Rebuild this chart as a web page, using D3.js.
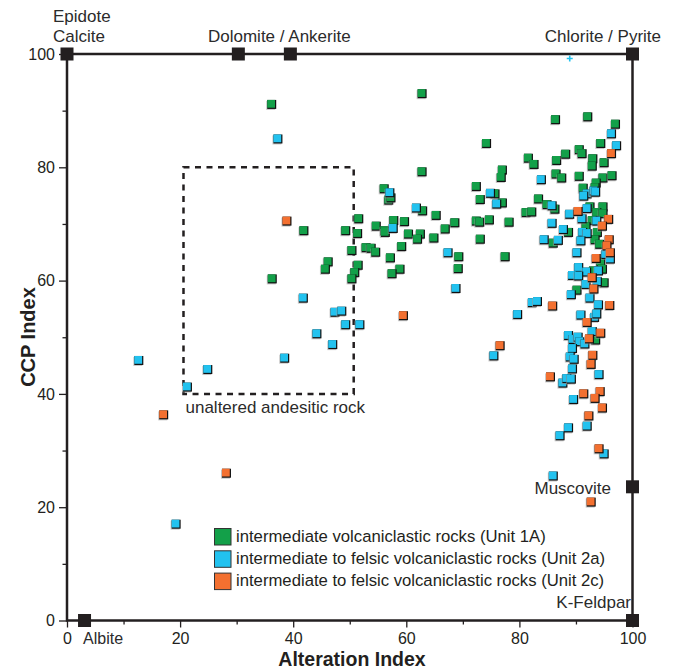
<!DOCTYPE html>
<html>
<head>
<meta charset="utf-8">
<script src="https://cdn.jsdelivr.net/npm/d3@7"></script>
<style>
  body { margin: 0; background: #fff; }
  svg { display: block; font-family: "Liberation Sans", Arial, sans-serif; }
</style>
</head>
<body>
<svg width="674" height="671"></svg>
<script>
// [Alteration Index, CCP Index]
var unit1A = [[36.2,91.1],[41.9,68.8],[49.3,68.8],[51.6,70.9],[51.4,68.3],[50.4,65.3],[46.2,63.3],[45.7,62.0],[51.5,62.7],[50.9,61.4],[50.4,60.3],[36.3,60.3],
  [62.8,93.0],[86.4,88.4],[92.1,88.9],[97.0,87.6],[94.4,84.2],[74.2,84.2],[81.6,81.6],[82.6,80.5],[86.6,81.2],[88.2,82.3],[90.6,83.1],[91.1,82.4],[93.0,81.5],
  [92.9,80.2],[95.0,80.8],[62.8,79.2],[77.0,79.5],[76.8,78.2],[86.5,78.8],[87.5,78.1],[90.6,78.4],[94.8,78.1],[96.4,78.5],[72.4,76.6],[56.1,76.2],[56.9,74.2],
  [57.3,74.6],[75.7,75.3],[73.1,74.3],[77.0,73.7],[91.3,76.3],[93.6,77.2],[93.4,76.4],[83.4,74.4],[84.9,73.4],[86.3,72.6],[62.9,72.3],[65.3,71.5],[57.8,70.6],
  [59.7,70.4],[68.6,70.2],[72.4,70.5],[73.0,70.3],[74.7,70.7],[78.2,70.3],[81.2,72.0],[82.2,72.1],[92.5,73.0],[94.8,73.0],[93.7,72.0],[94.8,71.8],[92.9,70.6],
  [91.8,69.5],[54.7,69.6],[56.2,68.8],[56.3,68.5],[60.4,68.2],[62.5,68.2],[62.0,67.3],[64.9,67.5],[66.9,69.1],[73.1,67.3],[88.7,68.5],[93.8,68.5],[86.0,66.6],
  [93.4,67.2],[94.2,66.4],[52.9,65.8],[53.8,65.7],[54.6,65.0],[59.2,66.0],[69.3,64.2],[57.2,64.0],[77.5,64.2],[94.4,63.3],[58.9,62.0],[57.5,61.2],[69.2,62.1],
  [94.7,62.0],[93.1,61.7],[95.0,59.6],[90.2,58.3],[93.5,49.5]];

var unit2a = [[37.3,85.0],[41.8,56.9],[47.4,54.4],[48.6,54.6],[49.3,52.2],[51.8,52.2],[44.2,50.6],[47.0,48.7],[38.5,46.3],[24.9,44.3],[21.3,41.2],[12.7,45.9],[19.3,17.0],
  [96.3,85.9],[97.2,83.8],[83.9,77.8],[57.1,75.5],[74.9,75.4],[76.0,73.5],[92.0,75.3],[91.4,74.9],[93.2,75.8],[93.5,75.6],[85.8,73.2],[61.8,72.8],[88.9,71.7],
  [92.0,72.7],[91.1,70.9],[93.7,70.5],[57.7,69.2],[85.8,70.1],[87.8,69.0],[91.2,68.5],[92.0,68.3],[84.4,67.2],[86.9,67.1],[90.9,67.0],[67.4,64.9],[90.2,64.9],
  [95.3,64.6],[96.1,63.8],[90.5,62.3],[91.9,61.5],[94.0,61.7],[89.4,60.9],[90.5,60.8],[93.8,59.8],[91.8,59.3],[68.8,58.6],
  [79.7,54.0],[82.3,56.1],[83.2,56.3],[89.2,57.5],[92.5,56.9],[94.0,55.7],[90.9,53.9],[93.3,53.5],[93.7,54.1],[92.9,51.0],[88.7,50.3],[89.5,49.6],[90.4,50.0],
  [90.7,49.2],[91.6,48.8],[89.4,48.0],[75.5,46.7],[89.0,46.5],[89.7,46.1],[89.4,44.4],[87.7,41.9],[88.4,42.7],[89.2,42.6],[94.1,43.4],[89.6,39.0],[92.0,34.3],
  [88.7,34.0],[87.2,32.6],[95.0,29.4],[86.0,25.5]];

var unit2c = [[38.9,70.5],[17.1,36.3],[28.2,26.0],
  [96.3,82.4],[90.4,72.2],[95.8,70.8],[94.7,69.6],[95.9,67.2],[95.5,66.1],[96.1,64.9],[93.6,63.9],[92.9,60.5],[93.2,58.5],
  [59.5,53.8],[85.9,55.5],[96.0,55.6],[92.0,52.6],[94.4,50.7],[92.4,49.7],[76.6,48.5],[93.0,46.8],[92.7,45.2],[85.5,43.0],[94.3,40.4],[91.4,40.0],[93.4,39.2],
  [94.7,37.5],[92.3,36.1],[94.1,30.3],[92.7,20.9]];

var crossPoint = [[88.9, 99.2]];

// end-member minerals on the frame
var minerals = [[0,100],[30.3,100],[39.5,100],[100,100],[100,23.6],[100,0],[3.1,0]];

var boxAI = [20.6, 50.7];
var boxCCP = [40, 80];

var majorTicks = [0, 20, 40, 60, 80, 100];
var minorTicks = [10, 30, 50, 70, 90];

var seriesNames = ["intermediate volcaniclastic rocks (Unit 1A)",
  "intermediate to felsic volcaniclastic rocks (Unit 2a)",
  "intermediate to felsic volcaniclastic rocks (Unit 2c)"];
var colors = ["#13a049", "#22c2ef", "#f37030"];

var svg = d3.select("svg");
var x = d3.scaleLinear().domain([0, 100]).range([67, 632.5]);
var y = d3.scaleLinear().domain([0, 100]).range([620.5, 54]);
var ink = "#231f20";

// axes
var gx = svg.append("g").attr("transform", "translate(0," + y(0) + ")");
gx.call(d3.axisBottom(x).tickValues(minorTicks).tickSize(4).tickFormat(""));
var gx2 = svg.append("g").attr("transform", "translate(0," + y(0) + ")");
gx2.call(d3.axisBottom(x).tickValues(majorTicks).tickSize(7).tickPadding(5));
var gy = svg.append("g").attr("transform", "translate(" + x(0) + ",0)");
gy.call(d3.axisLeft(y).tickValues(minorTicks).tickSize(4.5).tickFormat(""));
var gy2 = svg.append("g").attr("transform", "translate(" + x(0) + ",0)");
gy2.call(d3.axisLeft(y).tickValues(majorTicks).tickSize(8).tickPadding(4));
svg.selectAll(".domain").remove();
svg.selectAll(".tick line").attr("stroke", ink).attr("stroke-width", 1.3);
svg.selectAll(".tick text").attr("fill", ink).style("font-size", "16px")
  .style("font-family", "'Liberation Sans', Arial, sans-serif");

// frame
svg.append("rect")
  .attr("x", x(0)).attr("y", y(100))
  .attr("width", x(100) - x(0)).attr("height", y(0) - y(100))
  .attr("fill", "none").attr("stroke", ink).attr("stroke-width", 2.5);

// unaltered box
svg.append("rect")
  .attr("x", x(boxAI[0])).attr("y", y(boxCCP[1]))
  .attr("width", x(boxAI[1]) - x(boxAI[0])).attr("height", y(boxCCP[0]) - y(boxCCP[1]))
  .attr("fill", "none").attr("stroke", ink).attr("stroke-width", 2.5)
  .attr("stroke-dasharray", "6,5.5");

svg.append("text").attr("x", x(boxAI[0]) + 2).attr("y", 413)
  .style("font-size", "17px").attr("fill", "#2b2b2b").text("unaltered andesitic rock");

// data points
function drawSeries(data, color) {
  var g = svg.append("g");
  var m = g.selectAll("g").data(data).enter().append("g")
    .attr("transform", function(d){ return "translate(" + x(d[0]) + "," + y(d[1]) + ")"; });
  m.append("rect").attr("x", -5.5).attr("y", -3.5).attr("width", 9).attr("height", 9)
    .attr("fill", "#9a9a9a").attr("opacity", 0.55);
  m.append("rect").attr("x", -4.5).attr("y", -4.5).attr("width", 9).attr("height", 9)
    .attr("fill", "#111");
  m.append("rect").attr("x", -4.5).attr("y", -4.5).attr("width", 7.8).attr("height", 7.8)
    .attr("fill", color);
}
drawSeries(unit1A, colors[0]);
drawSeries(unit2a, colors[1]);
drawSeries(unit2c, colors[2]);

svg.selectAll(".cross").data(crossPoint).enter().append("path")
  .attr("class", "cross")
  .attr("d", function(d){
    var cx = x(d[0]), cy = y(d[1]);
    return "M" + (cx-3) + "," + cy + "H" + (cx+3) + "M" + cx + "," + (cy-3) + "V" + (cy+3);
  })
  .attr("stroke", colors[1]).attr("stroke-width", 1.6);

// mineral squares
svg.selectAll(".mineral").data(minerals).enter().append("rect")
  .attr("class", "mineral")
  .attr("x", function(d){ return x(d[0]) - 6.5; })
  .attr("y", function(d){ return y(d[1]) - 6.5; })
  .attr("width", 13).attr("height", 13).attr("fill", ink);

// mineral labels
var labels = [
  {t: "Epidote", x: 53, y: 22, a: "start"},
  {t: "Calcite", x: 53, y: 42, a: "start"},
  {t: "Dolomite / Ankerite", x: 208, y: 42, a: "start"},
  {t: "Chlorite / Pyrite", x: 661, y: 42, a: "end"},
  {t: "Muscovite", x: 611, y: 494, a: "end"},
  {t: "K-Feldpar", x: 631, y: 608, a: "end"},
  {t: "Albite", x: 83, y: 644, a: "start"}
];
svg.selectAll(".mlab").data(labels).enter().append("text")
  .attr("class", "mlab")
  .attr("x", function(d){ return d.x; }).attr("y", function(d){ return d.y; })
  .attr("text-anchor", function(d){ return d.a; })
  .style("font-size", function(d){ return d.t == "Albite" ? "16px" : "17px"; })
  .attr("fill", "#2b2b2b")
  .text(function(d){ return d.t; });

// legend
var lg = svg.append("g").attr("transform", "translate(214,528)");
var rows = lg.selectAll("g").data(seriesNames).enter().append("g")
  .attr("transform", function(d, i){ return "translate(0," + (i * 22.3) + ")"; });
rows.append("rect").attr("x", 0.5).attr("y", 0.5).attr("width", 16.5).attr("height", 16.5)
  .attr("fill", function(d, i){ return colors[i]; })
  .attr("stroke", "#333").attr("stroke-width", 1);
rows.append("text").attr("x", 22).attr("y", 13.5)
  .style("font-size", "16.7px").attr("fill", ink)
  .text(function(d){ return d; });

// axis titles
svg.append("text").attr("x", 352).attr("y", 666).attr("text-anchor", "middle")
  .style("font-size", "19.5px").style("font-weight", "bold").attr("fill", ink)
  .text("Alteration Index");
svg.append("text").attr("transform", "translate(35,337) rotate(-90)")
  .attr("text-anchor", "middle")
  .style("font-size", "20px").style("font-weight", "bold").attr("fill", ink)
  .text("CCP Index");
</script>
</body>
</html>
